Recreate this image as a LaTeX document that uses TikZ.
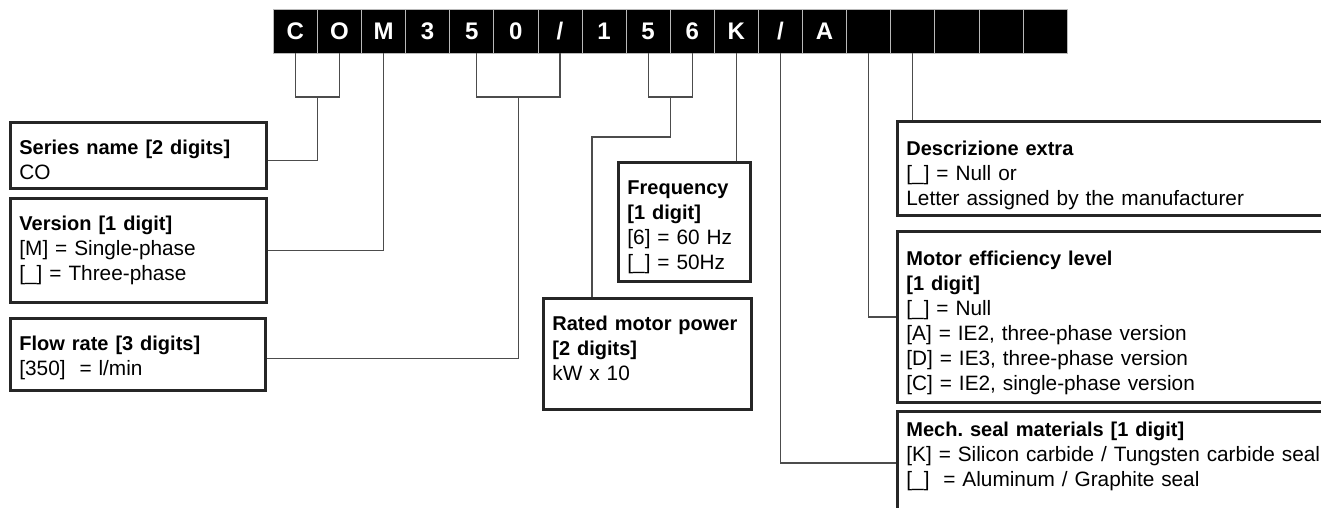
\documentclass[tikz,border=0pt]{standalone}
\usepackage{fontspec}
\setmainfont{Liberation Sans}
\usetikzlibrary{calc}
\frenchspacing
\newcommand\hd[1]{{\fontsize{20}{25}\selectfont\bfseries #1}}

\begin{document}
\begin{tikzpicture}[x=1pt,y=-1pt,
  cell/.style={fill=black,draw=gray!55,line width=0.8pt,minimum width=44.1pt,minimum height=43.5pt,inner sep=0pt,text=white,font=\fontsize{24}{24}\selectfont\bfseries},
  infobox/.style={draw=black!85,line width=2.8pt,fill=white,anchor=north west,align=left,inner xsep=9pt,inner ysep=0pt,text height=32pt,font=\fontsize{20.8}{25}\selectfont},
  link/.style={draw=black!70,line width=1.3pt}]
\useasboundingbox (0,0) rectangle (1321,508);
\clip (0,0) rectangle (1321,508);
% the code letters
\foreach \ch [count=\i] in {C,O,M,3,5,0,/,1,5,6,K,/,A,{},{},{},{},{}}
  \node[cell] (c\i) at ({273.3+44.1*(\i-0.5)},31.3) {\ch};
% boxes on the left
\node[infobox,text width=238pt,text depth=34pt] (ser) at (9,121)
  {\hd{Series name [2 digits]}\\ CO};
\node[infobox,text width=238pt,text depth=72pt] (ver) at (9,197)
  {\hd{Version [1 digit]}\\{}[M] = Single-phase\\{}[\_] = Three-phase};
\node[infobox,text width=237pt,text depth=40pt] (flow) at (9,317)
  {\hd{Flow rate [3 digits]}\\{}[350]~ = l/min};
% boxes in the middle
\node[infobox,text width=190pt,text depth=79pt] (pow) at (542,297)
  {\hd{Rated motor power}\\\hd{[2 digits]}\\ kW x 10};
\node[infobox,text width=114pt,text depth=87pt] (freq) at (617,161)
  {\hd{Frequency}\\\hd{[1 digit]}\\{}[6] = 60 Hz\\{}[\_] = 50Hz};
% boxes on the right, cut by the border
\node[infobox,text width=442pt,text height=34pt,text depth=60pt] (desc) at (896,120)
  {\hd{Descrizione extra}\\{}[\_] = Null or\\ Letter assigned by the manufacturer};
\node[infobox,text width=442pt,text height=34pt,text depth=137pt] (eff) at (896,230)
  {\hd{Motor efficiency level}\\\hd{[1 digit]}\\{}[\_] = Null\\{}[A] = IE2, three-phase version\\{}[D] = IE3, three-phase version\\{}[C] = IE2, single-phase version};
\node[infobox,text width=442pt,text height=25pt,text depth=150pt] (mech) at (896,410)
  {\hd{Mech. seal materials [1 digit]}\\{}[K] = Silicon carbide / Tungsten carbide seal\\{}[\_]~ = Aluminum / Graphite seal};
% connectors
\coordinate (brk) at (0,97);
\coordinate (kink) at (0,137);
\coordinate (sealy) at (0,463);
\draw[link] (c1.south) -- (c1.south |- brk) -- (c2.south |- brk) -- (c2.south);
\coordinate (coMid) at ($(c1.south |- brk)!0.5!(c2.south |- brk)$);
\draw[link] (coMid) |- ([yshift=-5pt]ser.east);
\draw[link] (c3.south) |- (ver.east);
\coordinate (c5d) at ([xshift=5pt]c5.south);
\draw[link] (c5d) -- (c5d |- brk) -- (c7.south |- brk) -- (c7.south);
\coordinate (fMid) at ($(c5d |- brk)!0.5!(c7.south |- brk)$);
\draw[link] (fMid) |- ([yshift=-4pt]flow.east);
\draw[link] (c9.south) -- (c9.south |- brk) -- (c10.south |- brk) -- (c10.south);
\coordinate (pMid) at ($(c9.south |- brk)!0.5!(c10.south |- brk)$);
\draw[link] (pMid) -- (pMid |- kink) -| ([xshift=50pt]pow.north west);
\draw[link] (c11.south) -- (c11.south |- freq.north);
\draw[link] (c12.south) |- (mech.west |- sealy);
\draw[link] (c14.south) |- (eff.west);
\draw[link] (c15.south) -- (c15.south |- desc.north);
\end{tikzpicture}
\end{document}
